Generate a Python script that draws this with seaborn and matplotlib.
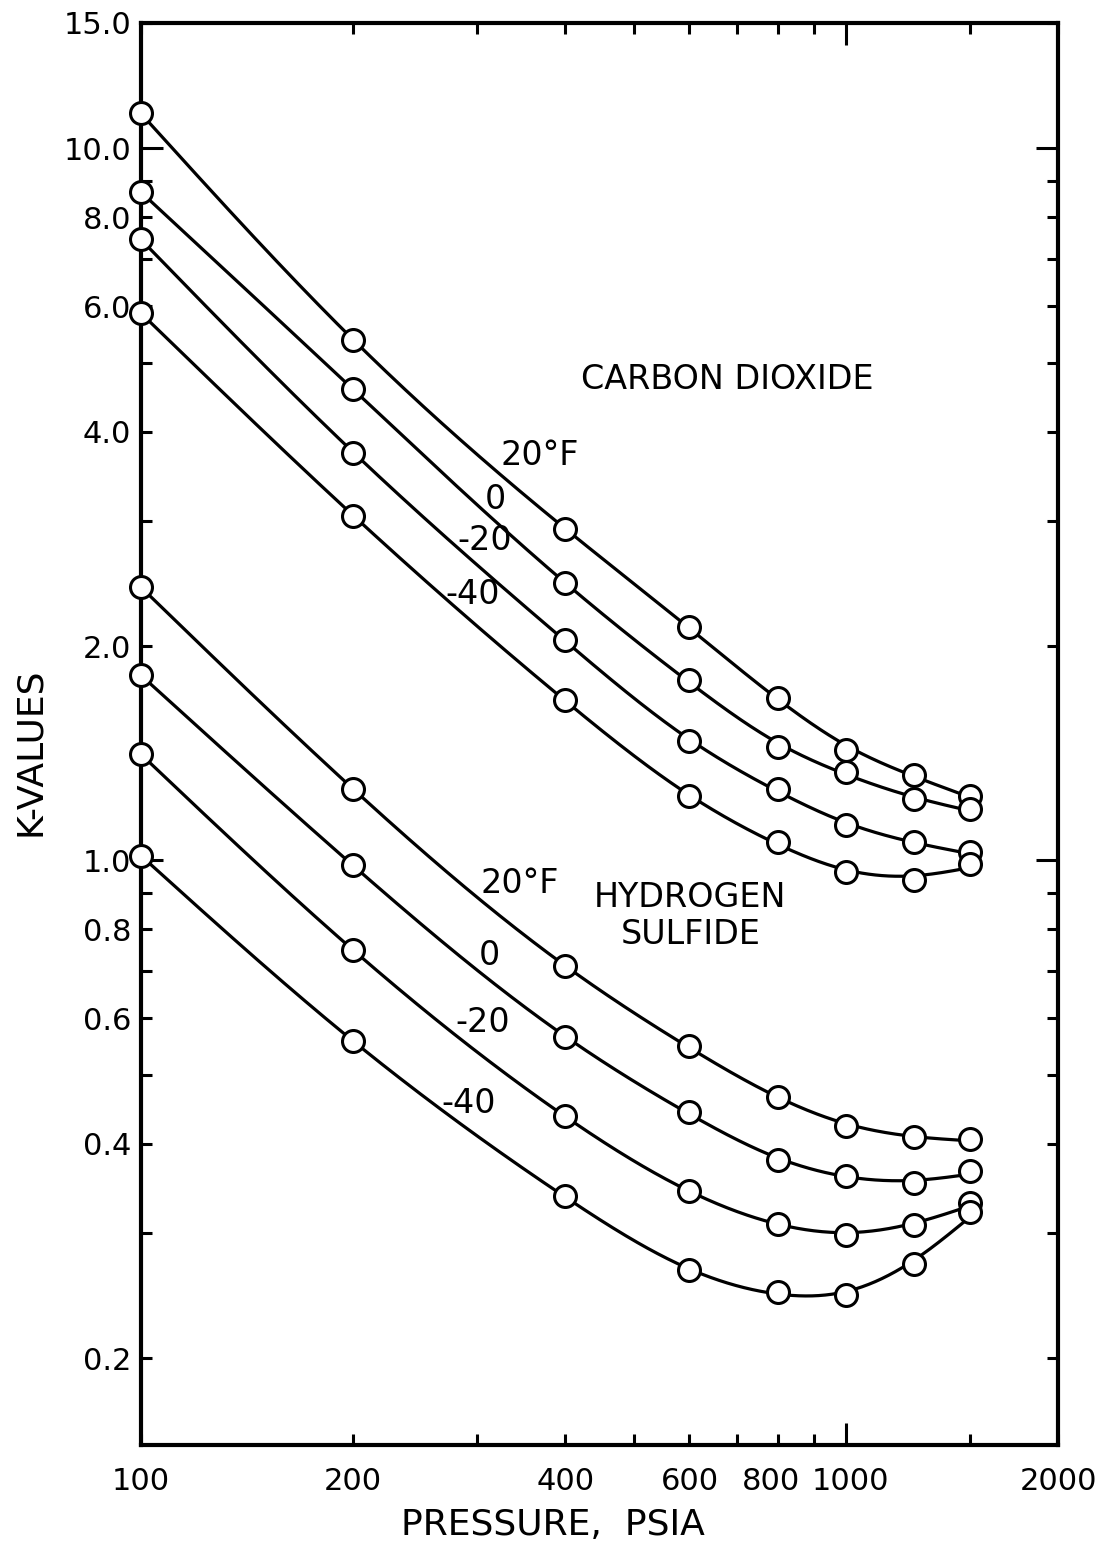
import numpy as np
import pandas as pd
import matplotlib
matplotlib.use("Agg")
import matplotlib.pyplot as plt
from matplotlib.transforms import ScaledTranslation
import seaborn as sns

# ---------------- data ----------------
pressure = [100, 200, 400, 600, 800, 1000, 1250, 1500]

co2_20 = [11.2, 5.38, 2.92, 2.13, 1.69, 1.43, 1.32, 1.23]
co2_0 = [8.68, 4.59, 2.45, 1.79, 1.445, 1.33, 1.22, 1.18]
co2_m20 = [7.45, 3.74, 2.04, 1.47, 1.26, 1.12, 1.06, 1.026]
co2_m40 = [5.87, 3.05, 1.68, 1.23, 1.063, 0.962, 0.940, 0.99]

h2s_20 = [2.42, 1.26, 0.710, 0.548, 0.465, 0.424, 0.409, 0.406]
h2s_0 = [1.82, 0.984, 0.565, 0.443, 0.380, 0.360, 0.352, 0.366]
h2s_m20 = [1.41, 0.748, 0.4375, 0.343, 0.309, 0.298, 0.308, 0.330]
h2s_m40 = [1.016, 0.557, 0.338, 0.266, 0.248, 0.245, 0.271, 0.321]

series_names = ["CO2 20F", "CO2 0F", "CO2 -20F", "CO2 -40F",
                "H2S 20F", "H2S 0F", "H2S -20F", "H2S -40F"]
series_values = [co2_20, co2_0, co2_m20, co2_m40,
                 h2s_20, h2s_0, h2s_m20, h2s_m40]

x_major = [1000]
x_major_labels = ["1000"]
x_minor = [100, 200, 300, 400, 500, 600, 700, 800, 900, 1500, 2000]
x_minor_labels = ["100", "200", "", "400", "", "600", "", "800", "", "", "2000"]
y_major = [1, 10]
y_major_labels = ["1.0", "10.0"]
y_minor = [0.2, 0.3, 0.4, 0.5, 0.6, 0.7, 0.8, 0.9, 2, 3, 4, 5, 6, 7, 8, 9, 15]
y_minor_labels = ["0.2", "", "0.4", "", "0.6", "", "0.8", "", "2.0", "", "4.0", "",
                  "6.0", "", "8.0", "", "15.0"]


# ---- drawing helpers: smooth (French-curve like) line through the points ----
def smoothing_values(x, y, lam):
    n = len(x)
    h = np.diff(x)
    Q = np.zeros((n, n - 2))
    R = np.zeros((n - 2, n - 2))
    for j in range(1, n - 1):
        Q[j - 1, j - 1] = 1 / h[j - 1]
        Q[j, j - 1] = -1 / h[j - 1] - 1 / h[j]
        Q[j + 1, j - 1] = 1 / h[j]
        R[j - 1, j - 1] = (h[j - 1] + h[j]) / 3
        if j < n - 2:
            R[j - 1, j] = R[j, j - 1] = h[j] / 6
    K = Q @ np.linalg.solve(R, Q.T)
    return np.linalg.solve(np.eye(n) + lam * K, y)


def natural_spline(xk, yk, xs):
    xk = np.asarray(xk, float)
    yk = np.asarray(yk, float)
    n = len(xk)
    h = np.diff(xk)
    A = np.zeros((n, n))
    r = np.zeros(n)
    A[0, 0] = A[-1, -1] = 1.0
    for i in range(1, n - 1):
        A[i, i - 1] = h[i - 1]
        A[i, i] = 2 * (h[i - 1] + h[i])
        A[i, i + 1] = h[i]
        r[i] = 6 * ((yk[i + 1] - yk[i]) / h[i] - (yk[i] - yk[i - 1]) / h[i - 1])
    M = np.linalg.solve(A, r)
    idx = np.clip(np.searchsorted(xk, xs) - 1, 0, n - 2)
    x0, x1 = xk[idx], xk[idx + 1]
    hh = x1 - x0
    a = (x1 - xs) / hh
    b = (xs - x0) / hh
    return a * yk[idx] + b * yk[idx + 1] + ((a ** 3 - a) * M[idx] + (b ** 3 - b) * M[idx + 1]) * hh ** 2 / 6


pts_rows = []
curve_rows = []
lx = np.log10(pressure)
dense = np.linspace(lx[0], lx[-1], 500)
for name, vals in zip(series_names, series_values):
    for p, k in zip(pressure, vals):
        pts_rows.append({"series": name, "P": p, "K": k})
    g = smoothing_values(lx, np.log10(vals), 1.5e-4)
    ys = natural_spline(lx, g, dense)
    for xv, yv in zip(dense, ys):
        curve_rows.append({"series": name, "P": 10 ** xv, "K": 10 ** yv})
pts = pd.DataFrame(pts_rows)
curves = pd.DataFrame(curve_rows)

# ---------------- figure ----------------
sns.set_style("ticks")
plt.rcParams["font.family"] = ["DejaVu Sans"]
plt.rcParams["text.color"] = "black"

fig = plt.figure(figsize=(11.02, 15.46), dpi=100)
ax = fig.add_axes([141 / 1102, 1 - 1445 / 1546, (1058 - 141) / 1102, (1445 - 23) / 1546])
ax.set_xscale("log")
ax.set_yscale("log")

sns.lineplot(data=curves, x="P", y="K", units="series", estimator=None, sort=False,
             color="black", linewidth=2.3, ax=ax, legend=False)
sns.scatterplot(data=pts, x="P", y="K", s=250, color="white", edgecolor="black",
                linewidth=2.2, zorder=5, clip_on=False, ax=ax, legend=False)

ax.set_xlim(100, 2000)
ax.set_ylim(0.151, 15)

ax.set_xticks(x_major, labels=x_major_labels)
ax.set_xticks(x_minor, labels=x_minor_labels, minor=True)
ax.set_yticks(y_major, labels=y_major_labels)
ax.set_yticks(y_minor, labels=y_minor_labels, minor=True)

ax.tick_params(which="both", direction="in", top=True, right=True, width=2.2,
               color="black", labelsize=22, labelcolor="black")
ax.tick_params(which="major", length=16)
ax.tick_params(which="minor", length=8)
ax.tick_params(axis="y", which="both", pad=7)
ax.tick_params(axis="x", which="both", pad=16)

# small nudge so the crowded "800" and "1000" labels do not touch
minor_ticks = ax.xaxis.get_minor_ticks(len(x_minor))
t800 = minor_ticks[x_minor.index(800)]
t800.label1.set_transform(t800.label1.get_transform()
                          + ScaledTranslation(-5 / 72, 0, fig.dpi_scale_trans))
t1000 = ax.xaxis.get_major_ticks(len(x_major))[0]
t1000.label1.set_transform(t1000.label1.get_transform()
                           + ScaledTranslation(3 / 72, 0, fig.dpi_scale_trans))

for s in ax.spines.values():
    s.set_linewidth(3)
    s.set_color("black")

ax.set_xlabel("")
ax.set_ylabel("")

fs = 24
tr = ax.transAxes
kw = dict(transform=tr, fontsize=fs, ha="center", va="center", color="black")
ax.text(0.639, 0.749, "CARBON DIOXIDE", **kw)
ax.text(0.435, 0.696, "20°F", **kw)
ax.text(0.386, 0.665, "0", **kw)
ax.text(0.375, 0.636, "-20", **kw)
ax.text(0.362, 0.598, "-40", **kw)

ax.text(0.413, 0.395, "20°F", **kw)
ax.text(0.599, 0.372, "HYDROGEN\nSULFIDE", linespacing=1.15, **kw)
ax.text(0.380, 0.344, "0", **kw)
ax.text(0.373, 0.297, "-20", **kw)
ax.text(0.357, 0.2405, "-40", **kw)

fig.text(30 / 1102, 1 - 752 / 1546, "K-VALUES", rotation=90, fontsize=26,
         ha="center", va="center", color="black")
fig.text(553 / 1102, 1 - 1525 / 1546, "PRESSURE,  PSIA", fontsize=26,
         ha="center", va="center", color="black")

fig.savefig("out.png", dpi=100, facecolor="white")
